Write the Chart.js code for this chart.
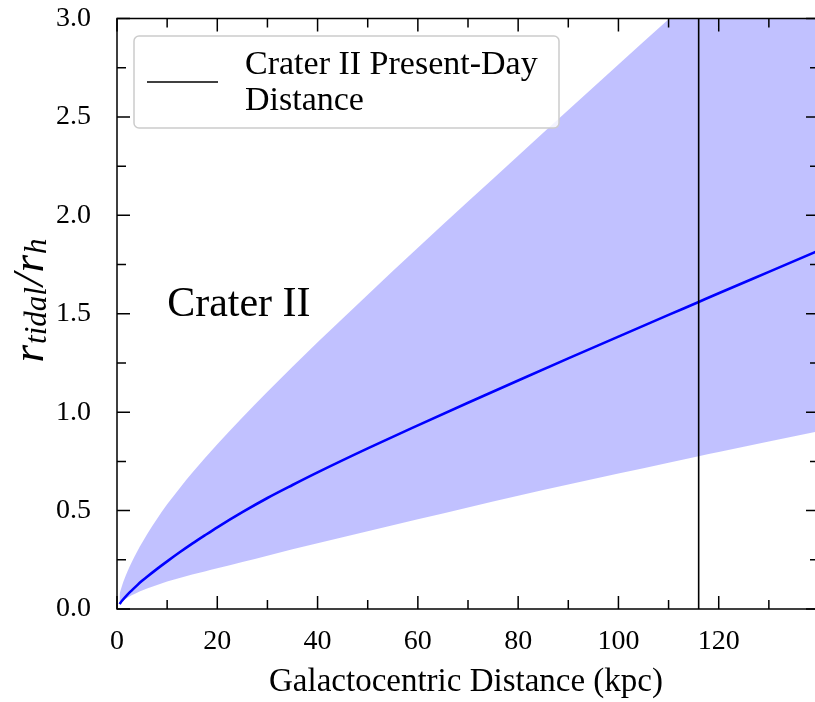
<!DOCTYPE html>
<html>
<head>
<meta charset="utf-8">
<title>Crater II tidal radius</title>
<script src="https://cdn.jsdelivr.net/npm/chart.js@4.4.1/dist/chart.umd.min.js"></script>
<style>
  html, body { margin: 0; padding: 0; background: #ffffff; }
  canvas { display: block; }
</style>
</head>
<body>
<canvas id="chart" width="815" height="702"></canvas>
<script>
// Galactocentric distance samples (kpc)
const distanceKpc = [0.5, 1, 2, 3, 4, 5, 6, 8, 10, 12.5, 15, 17.5, 20, 25, 30, 35, 40, 50, 60, 70, 80, 90, 100, 110, 116, 120, 130, 140];
// r_tidal / r_h : central estimate and the upper / lower envelope
const ratioCentral = [0.025, 0.042, 0.071, 0.096, 0.120, 0.143, 0.164, 0.204, 0.242, 0.288, 0.332, 0.374, 0.415, 0.492, 0.564, 0.630, 0.694, 0.816, 0.933, 1.048, 1.161, 1.273, 1.384, 1.494, 1.560, 1.604, 1.713, 1.822];
const ratioUpper   = [0.075, 0.118, 0.185, 0.241, 0.291, 0.336, 0.380, 0.459, 0.532, 0.614, 0.692, 0.766, 0.837, 0.973, 1.104, 1.231, 1.355, 1.597, 1.835, 2.070, 2.303, 2.535, 2.766, 2.996, 3.134, 3.226, 3.455, 3.684];
const ratioLower   = [0.026, 0.038, 0.056, 0.071, 0.083, 0.094, 0.104, 0.122, 0.140, 0.158, 0.175, 0.191, 0.207, 0.239, 0.271, 0.303, 0.334, 0.395, 0.456, 0.516, 0.575, 0.632, 0.688, 0.743, 0.776, 0.797, 0.851, 0.904];

// Present-day galactocentric distance of Crater II (kpc)
const presentDayKpc = 116;

// Axis ticks
const xTickLabels = [0, 20, 40, 60, 80, 100, 120];
const xMajorTicks = [0, 20, 40, 60, 80, 100, 120, 140];
const xMinorTicks = [10, 30, 50, 70, 90, 110, 130];
const yTickLabels = [0, 0.5, 1.0, 1.5, 2.0, 2.5, 3.0];
const yMinorTicks = [0.25, 0.75, 1.25, 1.75, 2.25, 2.75];
const xFrameMax = 140;

const xAxisTitle = 'Galactocentric Distance (kpc)';
const legendLines = ['Crater II Present-Day', 'Distance'];
const annotationText = 'Crater II';

const SERIF = "'Liberation Serif', 'Times New Roman', serif";
Chart.defaults.font.family = SERIF;
Chart.defaults.color = '#000000';

const toPoints = (xs, ys) => xs.map((x, i) => ({ x: x, y: ys[i] }));

// Inward tick marks on all four sides plus the frame
const frameAndTicks = {
  id: 'frameAndTicks',
  afterDatasetsDraw(chart) {
    const { ctx, chartArea: a, scales: { x, y } } = chart;
    const right = x.getPixelForValue(xFrameMax);
    const major = 13, minor = 9;
    ctx.save();
    ctx.strokeStyle = '#000000';
    ctx.lineWidth = 1.5;
    ctx.lineCap = 'butt';
    ctx.beginPath();
    const xTick = (v, len) => {
      const px = x.getPixelForValue(v);
      ctx.moveTo(px, a.bottom); ctx.lineTo(px, a.bottom - len);
      ctx.moveTo(px, a.top); ctx.lineTo(px, a.top + len);
    };
    const yTick = (v, len) => {
      const py = y.getPixelForValue(v);
      ctx.moveTo(a.left, py); ctx.lineTo(a.left + len, py);
      ctx.moveTo(right, py); ctx.lineTo(right - len, py);
    };
    xMajorTicks.forEach(v => xTick(v, major));
    xMinorTicks.forEach(v => xTick(v, minor));
    yTickLabels.forEach(v => yTick(v, major));
    yMinorTicks.forEach(v => yTick(v, minor));
    ctx.stroke();
    ctx.strokeRect(a.left, a.top, right - a.left, a.bottom - a.top);
    ctx.restore();
  }
};

// Legend box, text annotation and the math-style y-axis title
const decorations = {
  id: 'decorations',
  afterDraw(chart) {
    const { ctx, chartArea: a, scales: { x, y } } = chart;
    ctx.save();

    // legend
    const bx = a.left + 17, by = a.top + 17.5, bw = 425, bh = 92;
    ctx.beginPath();
    ctx.roundRect(bx, by, bw, bh, 5);
    ctx.fillStyle = 'rgba(255,255,255,0.8)';
    ctx.fill();
    ctx.strokeStyle = '#cccccc';
    ctx.lineWidth = 1.5;
    ctx.stroke();
    ctx.beginPath();
    ctx.moveTo(bx + 13, by + 46);
    ctx.lineTo(bx + 84, by + 46);
    ctx.strokeStyle = '#000000';
    ctx.lineWidth = 1.6;
    ctx.stroke();
    ctx.fillStyle = '#000000';
    ctx.font = '34px ' + SERIF;
    ctx.textAlign = 'left';
    ctx.textBaseline = 'alphabetic';
    ctx.fillText(legendLines[0], bx + 111, by + 38);
    ctx.fillText(legendLines[1], bx + 111, by + 74);

    // annotation placed in data coordinates
    ctx.font = '42px ' + SERIF;
    ctx.fillText(annotationText, x.getPixelForValue(10), y.getPixelForValue(1.49));

    // y-axis title: r_tidal / r_h
    const big = 45, small = 31;
    const parts = [
      { t: 'r', f: 'italic ' + big + 'px ' + SERIF, dy: 0 },
      { t: 'tidal', f: 'italic ' + small + 'px ' + SERIF, dy: 3 },
      { t: '/', f: 'italic ' + big + 'px ' + SERIF, dy: 0 },
      { t: 'r', f: 'italic ' + big + 'px ' + SERIF, dy: 0 },
      { t: 'h', f: 'italic ' + small + 'px ' + SERIF, dy: 3 }
    ];
    let total = 0;
    parts.forEach(p => { ctx.font = p.f; p.w = ctx.measureText(p.t).width; total += p.w + 1; });
    ctx.translate(43, y.getPixelForValue(1.57));
    ctx.rotate(-Math.PI / 2);
    let u = -total / 2;
    parts.forEach(p => {
      ctx.font = p.f;
      ctx.fillText(p.t, u, p.dy);
      u += p.w + 1;
    });
    ctx.restore();
  }
};

new Chart(document.getElementById('chart'), {
  type: 'line',
  data: {
    datasets: [
      {
        label: 'upper',
        data: toPoints(distanceKpc, ratioUpper),
        borderWidth: 0,
        borderColor: 'rgba(0,0,0,0)',
        backgroundColor: 'rgba(0,0,255,0.245)',
        fill: '+1',
        pointRadius: 0,
        cubicInterpolationMode: 'monotone',
        order: 3
      },
      {
        label: 'lower',
        data: toPoints(distanceKpc, ratioLower),
        borderWidth: 0,
        borderColor: 'rgba(0,0,0,0)',
        fill: false,
        pointRadius: 0,
        cubicInterpolationMode: 'monotone',
        order: 3
      },
      {
        label: 'central',
        data: toPoints(distanceKpc, ratioCentral),
        borderColor: '#0000ff',
        borderWidth: 2.6,
        fill: false,
        pointRadius: 0,
        cubicInterpolationMode: 'monotone',
        order: 2
      },
      {
        label: legendLines.join(' '),
        data: [{ x: presentDayKpc, y: 0 }, { x: presentDayKpc, y: 3 }],
        borderColor: '#000000',
        borderWidth: 1.6,
        fill: false,
        pointRadius: 0,
        order: 1
      }
    ]
  },
  options: {
    responsive: false,
    animation: false,
    devicePixelRatio: 1,
    layout: { padding: { left: 0, top: 18.5, right: 0, bottom: 0 } },
    plugins: {
      legend: { display: false },
      tooltip: { enabled: false },
      filler: { drawTime: 'beforeDatasetsDraw' }
    },
    scales: {
      x: {
        type: 'linear',
        min: 0,
        max: 139.2,
        grid: { display: false, drawTicks: false },
        border: { display: false },
        afterBuildTicks: s => { s.ticks = xTickLabels.map(v => ({ value: v })); },
        afterFit: s => { s.height = 93; s.paddingLeft = 0; s.paddingRight = 0; },
        ticks: {
          autoSkip: false,
          maxRotation: 0,
          padding: 16,
          font: { size: 28, family: SERIF },
          color: '#000000',
          callback: v => String(v)
        },
        title: {
          display: true,
          text: xAxisTitle,
          font: { size: 33, family: SERIF },
          color: '#000000',
          padding: { top: 0, bottom: 0 }
        }
      },
      y: {
        type: 'linear',
        min: 0,
        max: 3,
        grid: { display: false, drawTicks: false },
        border: { display: false },
        afterBuildTicks: s => { s.ticks = yTickLabels.map(v => ({ value: v })); },
        afterFit: s => { s.width = 117; s.paddingTop = 0; s.paddingBottom = 0; },
        ticks: {
          autoSkip: false,
          padding: 26,
          font: { size: 28, family: SERIF },
          color: '#000000',
          callback: v => Number(v).toFixed(1)
        }
      }
    }
  },
  plugins: [frameAndTicks, decorations]
});
</script>
</body>
</html>
